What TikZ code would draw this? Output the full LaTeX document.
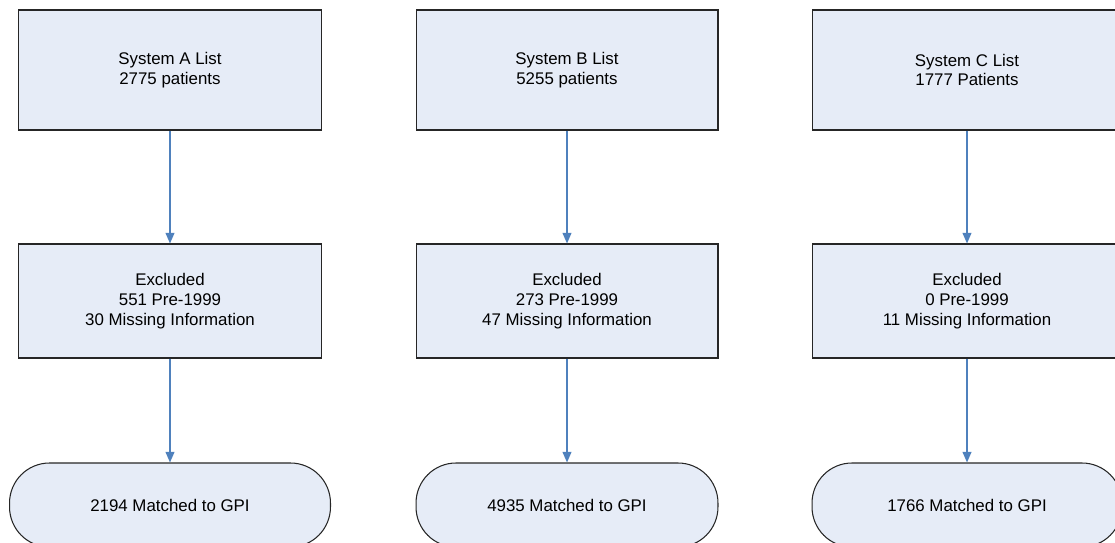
\documentclass[tikz,border=0pt]{standalone}
\usepackage{fontspec}
\setmainfont{Liberation Sans}
\usepackage{xcolor}
\usetikzlibrary{arrows.meta}
\definecolor{boxfill}{HTML}{E6ECF7}
\definecolor{boxline}{HTML}{262626}
\definecolor{flowblue}{HTML}{4F81BD}
\tikzset{
    tnode/.style = {align=center, inner sep=0pt, text centered, font=\fontsize{9.6}{11.3}\selectfont},
    listbox/.style = {tnode, rectangle, draw=boxline, fill=boxfill, line width=0.6pt, minimum height=2.4cm},
    exclbox/.style = {tnode, rectangle, draw=boxline, fill=boxfill, line width=0.6pt, minimum height=2.28cm},
    gpi/.style = {tnode, rectangle, rounded corners=0.8cm, draw=boxline, fill=boxfill, line width=0.6pt, minimum height=1.68cm},
    flow/.style = {->, draw=flowblue, line width=0.8pt}
}

\begin{document}
\begin{tikzpicture}
            [x=0.02cm, y=-0.02cm,
            >={Triangle[width=5pt,length=6pt]}]

            \useasboundingbox (0,0) rectangle (1115,543);

            % system A
            \node [listbox, minimum width=6.06cm] (sysA) at (170,70) {System A List\\2775 patients};
            \node [exclbox, minimum width=6.06cm] (exA) at (170,301) {Excluded\\551 Pre-1999\\30 Missing Information};
            \node [gpi, minimum width=6.42cm] (gpiA) at (170,505) {2194 Matched to GPI};

            % system B
            \node [listbox, minimum width=6.04cm] (sysB) at (567,70) {System B List\\5255 patients};
            \node [exclbox, minimum width=6.04cm] (exB) at (567,301) {Excluded\\273 Pre-1999\\47 Missing Information};
            \node [gpi, minimum width=6.04cm] (gpiB) at (567,505) {4935 Matched to GPI};

            % system C
            \node [listbox, minimum width=6.2cm] (sysC) at (967,70) {System C List\\1777 Patients};
            \node [exclbox, minimum width=6.2cm] (exC) at (967,301) {Excluded\\0 Pre-1999\\11 Missing Information};
            \node [gpi, minimum width=6.2cm] (gpiC) at (967,505) {1766 Matched to GPI};

            \draw [flow] (sysA) -- (exA);
            \draw [flow] (exA) -- (gpiA);
            \draw [flow] (sysB) -- (exB);
            \draw [flow] (exB) -- (gpiB);
            \draw [flow] (sysC) -- (exC);
            \draw [flow] (exC) -- (gpiC);
\end{tikzpicture}
\end{document}
